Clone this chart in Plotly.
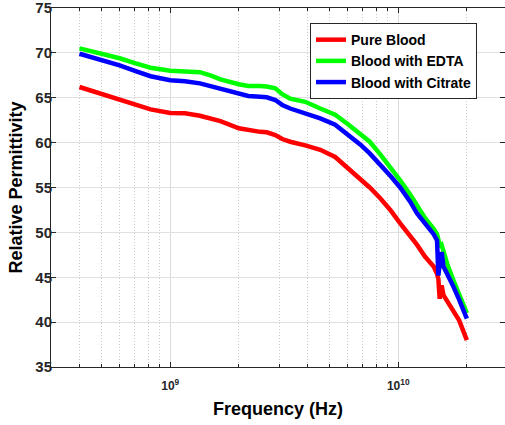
import math
import plotly.graph_objects as go

# Frequency in GHz
freq_ghz = [0.4, 0.5, 0.6, 0.7, 0.82, 1.0, 1.16, 1.35, 1.5, 1.66,
            2.0, 2.2, 2.48, 2.65, 2.89, 3.1, 3.36, 3.91, 4.55, 5.29,
            6.06, 6.81, 7.5, 8.34, 9.23, 10.2, 11.3, 12.1, 13.1, 14.3,
            14.8, 15.0, 15.2, 15.5, 15.8, 16.5, 17.5, 18.5, 20.0]

pure_blood = [66.2, 65.4, 64.75, 64.2, 63.7, 63.3, 63.27, 63.0, 62.75, 62.4,
              61.6, 61.4, 61.2, 61.15, 60.85, 60.4, 60.1, 59.7, 59.2, 58.4,
              57.1, 56.0, 55.0, 53.8, 52.5, 51.0, 49.6, 48.6, 47.3, 46.2,
              45.4, 44.8, 42.6, 44.1, 43.0, 42.2, 41.2, 40.2, 38.0]

blood_edta = [70.5, 69.9, 69.4, 68.85, 68.35, 68.0, 67.95, 67.85, 67.5, 67.05,
              66.5, 66.3, 66.3, 66.25, 66.05, 65.4, 64.9, 64.55, 63.8, 63.1,
              62.0, 61.0, 60.1, 58.7, 57.3, 55.8, 54.2, 52.9, 51.6, 50.4,
              49.8, 49.2, 48.4, 48.6, 47.8, 46.3, 44.6, 43.2, 41.0]

blood_citrate = [69.9, 69.2, 68.6, 68.0, 67.4, 66.95, 66.85, 66.6, 66.3, 65.9,
                 65.45, 65.2, 65.1, 65.05, 64.75, 64.2, 63.8, 63.3, 62.7, 62.0,
                 60.85, 59.8, 58.8, 57.6, 56.3, 55.0, 53.4, 52.1, 51.0, 49.8,
                 49.1, 45.2, 46.5, 47.8, 46.2, 45.3, 43.9, 42.5, 40.4]

series_names = ["Pure Blood", "Blood with EDTA", "Blood with Citrate"]
series_colors = ["#ff0000", "#00ff00", "#0000ff"]

x_tick_vals = [1e9, 1e10]
x_tick_text = ["10<sup>9</sup>", "10<sup>10</sup>"]
y_tick_vals = [35, 40, 45, 50, 55, 60, 65, 70, 75]

freq_hz = [f * 1e9 for f in freq_ghz]

fig = go.Figure()
for name, vals, col in zip(series_names, [pure_blood, blood_edta, blood_citrate], series_colors):
    fig.add_trace(go.Scatter(x=freq_hz, y=vals, mode="lines", name=name,
                             line=dict(color=col, width=4.5)))

minor_vals = [m * 10 ** k for k in (8, 9, 10) for m in range(2, 10)
              if 3.5e8 < m * 10 ** k < 3e10]

FONT = "Liberation Sans, Arial, sans-serif"
axcol = "#262626"

x_lo = math.log10(3e8)
x_hi = x_lo + 454 / 228

fig.update_layout(
    width=505, height=425,
    margin=dict(l=51, r=0, t=8, b=58, autoexpand=False),
    paper_bgcolor="white", plot_bgcolor="white",
    font=dict(family=FONT, color="black"),
    showlegend=True,
    legend=dict(x=0.5705, xanchor="left", y=0.958, yanchor="top",
                bgcolor="white", bordercolor=axcol, borderwidth=1,
                font=dict(family=FONT, size=14, color="black", weight="bold"),
                tracegroupgap=0),
    xaxis=dict(type="log", range=[x_lo, x_hi], automargin=False,
               tickmode="array", tickvals=x_tick_vals, ticktext=x_tick_text,
               tickfont=dict(family=FONT, size=12, color=axcol, weight="bold"),
               ticks="inside", ticklen=5, tickcolor=axcol,
               ticklabelstandoff=8, ticklabeloverflow="allow",
               showline=True, linecolor=axcol, linewidth=1, mirror="ticks",
               showgrid=True, gridcolor="#dcdcdc", gridwidth=1,
               zeroline=False,
               minor=dict(tickvals=minor_vals, showgrid=True, gridcolor="#cccccc",
                          griddash="1px,2px", ticks="inside", ticklen=3, tickcolor=axcol),
               title=dict(text="Frequency (Hz)",
                          font=dict(family=FONT, size=18, color="black", weight="bold"),
                          standoff=9)),
    yaxis=dict(range=[35, 75], automargin=False,
               tickmode="array", tickvals=y_tick_vals,
               tickfont=dict(family=FONT, size=15, color=axcol, weight="bold"),
               ticks="inside", ticklen=5, tickcolor=axcol,
               ticklabelstandoff=-5, ticklabeloverflow="allow",
               showline=True, linecolor=axcol, linewidth=1, mirror="ticks",
               showgrid=True, gridcolor="#e0e0e0", gridwidth=1,
               zeroline=False,
               title=dict(text="Relative Permittivity",
                          font=dict(family=FONT, size=18, color="black", weight="bold"),
                          standoff=8)),
)

fig.write_html("out.html", config={"displayModeBar": False},
               post_script="document.body.style.margin='0';")
